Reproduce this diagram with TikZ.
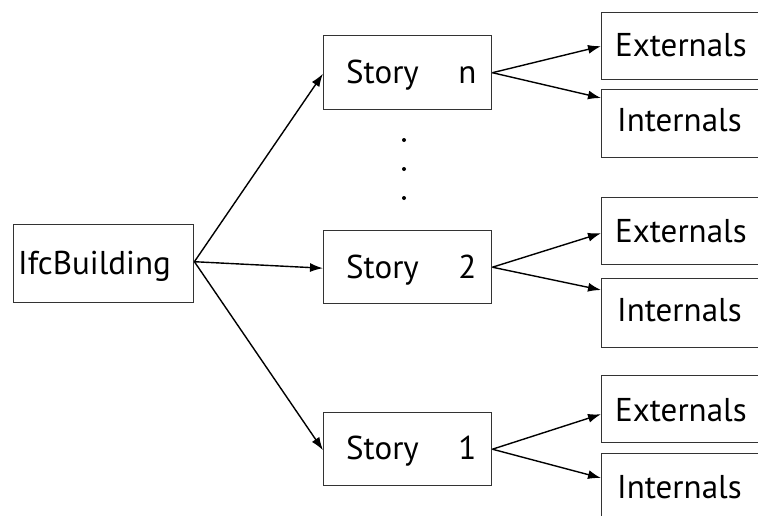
\documentclass[tikz,border=0pt]{standalone}
\usepackage{fontspec}
\setmainfont{PT Sans}
\usetikzlibrary{arrows.meta}
\begin{document}
\begin{tikzpicture}[x=1pt,y=-1pt,
  box/.style={draw=black!80, line width=1.4pt, rectangle, inner sep=0pt, anchor=north west},
  lbl/.style={anchor=base west, inner sep=0pt, font=\fontsize{33}{38}\selectfont},
  conn/.style={line width=1.4pt, -{Latex[length=13pt,width=9pt]}},
  dot/.style={circle, fill=black, inner sep=0pt, minimum size=4pt}]
\useasboundingbox (0,0) rectangle (758,515);
\clip (0,0) rectangle (758,515);
% left box
\node[box, minimum width=180pt, minimum height=78pt] (ifc) at (13,224) {};
\node[lbl] (tifc) at (18,274) {IfcBuilding};
% story boxes
\node[box, minimum width=168pt, minimum height=74pt] (sn) at (323,35) {};
\node[box, minimum width=168pt, minimum height=73pt] (s2) at (323,230) {};
\node[box, minimum width=168pt, minimum height=73pt] (s1) at (323,412) {};
\node[lbl] (tsn) at (346,83) {Story\hspace{1.2em}n};
\node[lbl] (ts2) at (346,278) {Story\hspace{1.2em}2};
\node[lbl] (ts1) at (346,459) {Story\hspace{1.2em}1};
% dots
\node[dot] (d1) at (404,140) {};
\node[dot] (d2) at (404,169) {};
\node[dot] (d3) at (404,198) {};
% right boxes
\node[box, minimum width=180pt, minimum height=67pt] (en) at (601,12) {};
\node[box, minimum width=180pt, minimum height=68pt] (in) at (601,89) {};
\node[box, minimum width=180pt, minimum height=67pt] (e2) at (601,197) {};
\node[box, minimum width=180pt, minimum height=69pt] (i2) at (601,278) {};
\node[box, minimum width=180pt, minimum height=67pt] (e1) at (601,375) {};
\node[box, minimum width=180pt, minimum height=80pt] (i1) at (601,453) {};
\node[lbl] (ten) at (615,56) {Externals};
\node[lbl] (tin) at (617,131) {Internals};
\node[lbl] (te2) at (615,242) {Externals};
\node[lbl] (ti2) at (617,321) {Internals};
\node[lbl] (te1) at (615,421) {Externals};
\node[lbl] (ti1) at (617,498) {Internals};
% connectors
\draw[conn] ([yshift=2pt]ifc.east) -- ([yshift=-1pt]sn.west);
\draw[conn] ([yshift=2pt]ifc.east) -- ([yshift=-1pt]s2.west);
\draw[conn] ([yshift=2pt]ifc.east) -- ([yshift=-1pt]s1.west);
\draw[conn] (sn.east) -- (en.west);
\draw[conn] (sn.east) -- ([yshift=-9pt]in.north west);
\draw[conn] (s2.east) -- ([yshift=-2pt]e2.west);
\draw[conn] (s2.east) -- ([yshift=-12pt]i2.north west);
\draw[conn] (s1.east) -- ([yshift=-5pt]e1.west);
\draw[conn] (s1.east) -- ([yshift=-25pt]i1.north west);
\end{tikzpicture}
\end{document}
